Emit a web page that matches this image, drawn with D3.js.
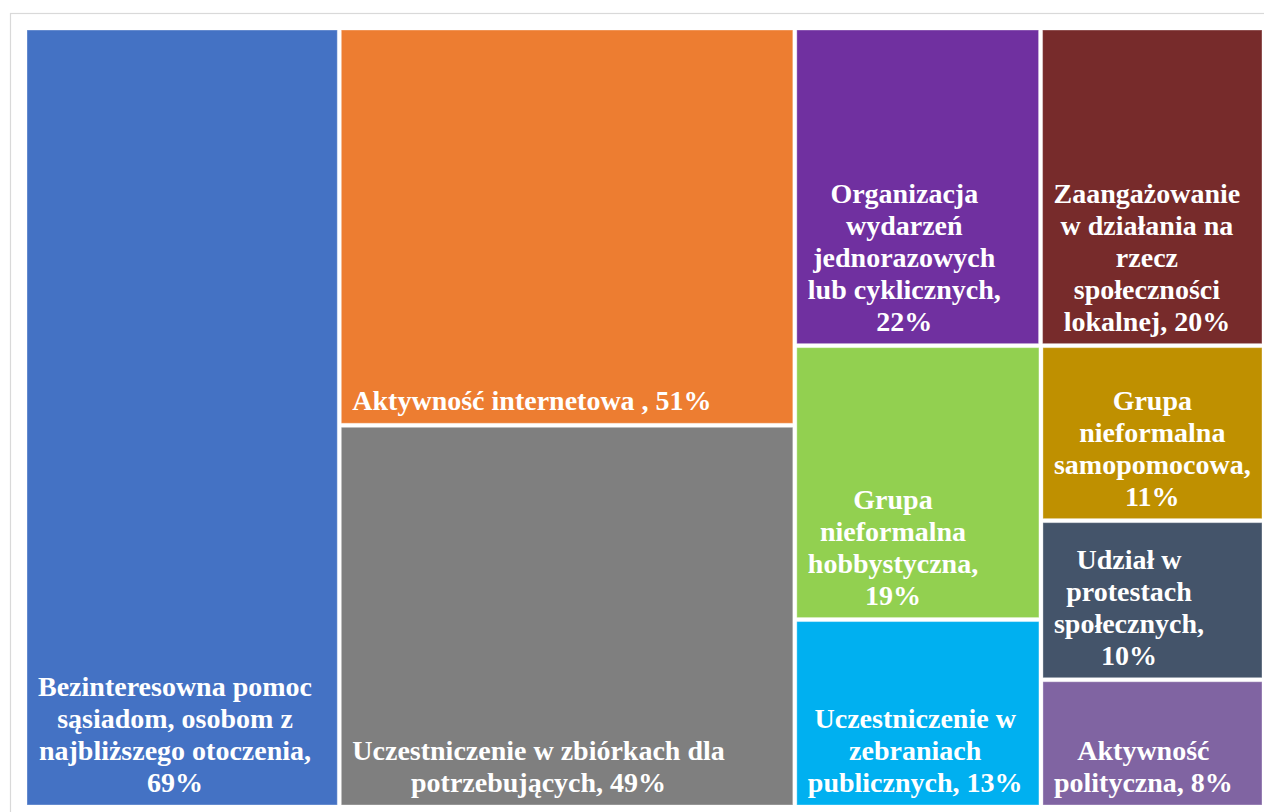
<!DOCTYPE html>
<html lang="pl">
<head>
<meta charset="utf-8">
<title>Treemap</title>
<script src="https://cdn.jsdelivr.net/npm/d3@7"></script>
<style>
    html, body { margin: 0; padding: 0; background: #fff; }
    svg { display: block; }
</style>
</head>
<body>
<svg id="chart" width="1264" height="812"></svg>
<script>

// Categories, values (%) and tile colours, in the order of the chart
const categories = [
    "Bezinteresowna pomoc sąsiadom, osobom z najbliższego otoczenia",
    "Aktywność internetowa ",
    "Uczestniczenie w zbiórkach dla potrzebujących",
    "Organizacja wydarzeń jednorazowych lub cyklicznych",
    "Zaangażowanie w działania na rzecz społeczności lokalnej",
    "Grupa nieformalna hobbystyczna",
    "Uczestniczenie w zebraniach publicznych",
    "Grupa nieformalna samopomocowa",
    "Udział w protestach społecznych",
    "Aktywność polityczna"
];

const values = [69, 51, 49, 22, 20, 19, 13, 11, 10, 8];

const colors = [
    "#4472C4", "#ED7D31", "#7F7F7F", "#7030A0", "#772B2B",
    "#92D050", "#00B0F0", "#BF9000", "#44546A", "#8064A2"
];

class Treemap {

    constructor(svg) {

        this.svg = d3.select(svg);

        this.margin = {
            top: 30,
            left: 27,
            right: 2,
            bottom: 7
        };

        this.width = +this.svg.attr("width") - this.margin.left - this.margin.right;
        this.height = +this.svg.attr("height") - this.margin.top - this.margin.bottom;

        this.label = {
            size: 28,
            lineHeight: 32,
            padding: 11,
            bottom: 13
        };

        this.data = categories.map((c, i) => ({name: c, value: values[i], color: colors[i]}));

        // Excel lays the tiles out a bit differently from d3.treemapSquarify,
        // same algorithm but with a target ratio below one (d3 clamps it to 1)
        this.ratio = 0.75;

        this.draw();
    }

    tile(ratio) {
        return (parent, x0, y0, x1, y1) => {
            let nodes = parent.children;
            let value = parent.value;
            let n = nodes.length;
            let i0 = 0, i1 = 0;

            while (i0 < n) {
                let dx = x1 - x0, dy = y1 - y0;
                let sum = nodes[i1++].value;
                let minV = sum, maxV = sum;
                let alpha = Math.max(dy / dx, dx / dy) / (value * ratio);
                let beta = sum * sum * alpha;
                let minRatio = Math.max(maxV / beta, beta / minV);

                for (; i1 < n; i1++) {
                    let v = nodes[i1].value;
                    sum += v;
                    if (v < minV) minV = v;
                    if (v > maxV) maxV = v;
                    beta = sum * sum * alpha;
                    let r = Math.max(maxV / beta, beta / minV);
                    if (r > minRatio) { sum -= v; break; }
                    minRatio = r;
                }

                let row = {value: sum, children: nodes.slice(i0, i1)};

                if (dx < dy) {
                    let y = value ? y0 + dy * sum / value : y1;
                    d3.treemapDice(row, x0, y0, x1, y);
                    y0 = y;
                } else {
                    let x = value ? x0 + dx * sum / value : x1;
                    d3.treemapSlice(row, x0, y0, x, y1);
                    x0 = x;
                }

                value -= sum;
                i0 = i1;
            }
        };
    }

    wrap(text, words, maxWidth) {
        let lines = [];
        let line = [];
        let probe = text.append("tspan");

        words.forEach(w => {
            let test = line.concat(w).join(" ");
            probe.text(test);
            if (line.length && probe.node().getComputedTextLength() > maxWidth) {
                lines.push(line.join(" "));
                line = [w];
            } else {
                line.push(w);
            }
        });
        if (line.length) lines.push(line.join(" "));

        let widths = lines.map(l => {
            probe.text(l);
            return probe.node().getComputedTextLength();
        });
        probe.remove();

        return {lines, widths};
    }

    draw() {

        /*
        |--------------------------------------------------------------------------
        | Light frame around the plot area
        |--------------------------------------------------------------------------
        */

        this.svg.append("rect")
        .attr("x", 10.5)
        .attr("y", 13.5)
        .attr("width", 1300)
        .attr("height", 900)
        .attr("fill", "none")
        .attr("stroke", "#D9D9D9")
        .attr("stroke-width", 1.2);

        let root = d3.hierarchy({children: this.data})
        .sum(d => d.value || 0);

        d3.treemap()
        .tile(this.tile(this.ratio))
        .size([this.width, this.height])
        .paddingInner(4)
        (root);

        let g = this.svg.append("g")
        .attr("transform", `translate(${this.margin.left},${this.margin.top})`);

        let cell = g.selectAll("g.cell")
        .data(root.leaves())
        .join("g")
        .attr("class", "cell")
        .attr("transform", d => `translate(${d.x0},${d.y0})`);

        /*
        |--------------------------------------------------------------------------
        | Tiles
        |--------------------------------------------------------------------------
        */

        cell.append("rect")
        .attr("width", d => d.x1 - d.x0)
        .attr("height", d => d.y1 - d.y0)
        .attr("fill", d => d.data.color)
        .attr("stroke", "rgba(255,255,255,0.35)")
        .attr("stroke-width", 1);

        /*
        |--------------------------------------------------------------------------
        | Labels : wrapped, bottom aligned, centered in a left anchored box
        |--------------------------------------------------------------------------
        */

        let L = this.label;

        cell.each((d, i, nodes) => {
            let w = d.x1 - d.x0;
            let h = d.y1 - d.y0;
            let boxWidth = w - 2 * L.padding;

            let text = d3.select(nodes[i]).append("text")
            .attr("fill", "#fff")
            .attr("text-anchor", "middle")
            .style("font-family", "'Liberation Serif', 'Times New Roman', serif")
            .style("font-weight", "bold")
            .style("font-size", `${L.size}px`);

            let label = `${d.data.name}, ${d.data.value}%`;
            let {lines, widths} = this.wrap(text, label.split(" "), boxWidth);

            let cx = L.padding + Math.min(d3.max(widths), boxWidth) / 2;
            let n = lines.length;

            lines.forEach((l, j) => {
                text.append("tspan")
                .attr("x", cx)
                .attr("y", h - L.bottom - (n - 1 - j) * L.lineHeight)
                .text(l);
            });
        });
    }
}

new Treemap("#chart");

</script>
</body>
</html>
